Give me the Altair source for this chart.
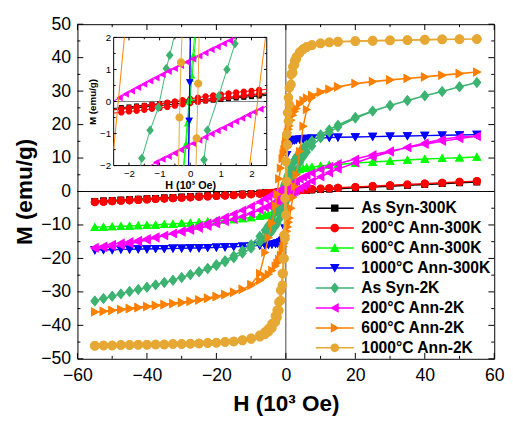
import altair as alt
import pandas as pd

SERIES = ["As Syn-300K", "200°C Ann-300K", "600°C Ann-300K", "1000°C Ann-300K",
          "As Syn-2K", "200°C Ann-2K", "600°C Ann-2K", "1000°C Ann-2K"]
COLORS = ["#000000", "#ff0000", "#00ff00", "#0000ff", "#3cb371", "#ff00ff", "#ff8000", "#e6a832"]

SQUARE = "M-0.85,-0.85H0.85V0.85H-0.85Z"
CIRCLE = "M-1,0A1,1,0,1,1,1,0A1,1,0,1,1,-1,0Z"
TRI_UP = "M0,-1.1L1.1,0.9L-1.1,0.9Z"
TRI_DOWN = "M0,1.1L-1.1,-0.9L1.1,-0.9Z"
DIAMOND = "M0,-1.25L1,0L0,1.25L-1,0Z"
TRI_LEFT = "M-1.1,0L0.9,-1.1L0.9,1.1Z"
TRI_RIGHT = "M1.1,0L-0.9,1.1L-0.9,-1.1Z"
MARKERS = [SQUARE, CIRCLE, TRI_UP, TRI_DOWN, DIAMOND, TRI_LEFT, TRI_RIGHT, CIRCLE]
LEG_LINE = "M-4.33,-0.17H4.33V0.17H-4.33Z"
LEGEND_PATHS = [m + LEG_LINE for m in MARKERS]
SIZES = [64, 70, 70, 75, 80, 75, 75, 95]
IN_SIZES = [36, 42, 36, 45, 60, 45, 45, 70]

# ---- main loops: field grid (descending branch); ascending branch uses the reversed grid
H_DOWN = [55, 50, 45, 40, 35, 30, 25, 20, 15, 12.5, 10, 7.5, 6, 5, 4, 3, 2.5, 2, 1.5, 1, 0.75, 0.5, 0.25, 0,
          -0.25, -0.5, -0.75, -1, -1.5, -2, -2.5, -3, -4, -5, -6, -7.5, -10, -12.5, -15, -17.5, -20, -22.5, -25,
          -27.5, -30, -32.5, -35, -37.5, -40, -42.5, -45, -47.5, -50, -52.5, -55]
H_UP = list(reversed(H_DOWN))

M_DOWN = [
    [2.85, 2.6, 2.35, 2.1, 1.85, 1.6, 1.35, 1.1, 0.85, 0.72, 0.6, 0.47, 0.4, 0.34, 0.29, 0.24, 0.22, 0.19, 0.15, 0.11, 0.09, 0.07, 0.045, 0.02,
     -0.005, -0.03, -0.05, -0.07, -0.11, -0.15, -0.19, -0.23, -0.29, -0.35, -0.41, -0.49, -0.62, -0.75, -0.88, -1.0, -1.13, -1.26, -1.39,
     -1.52, -1.65, -1.78, -1.91, -2.03, -2.16, -2.29, -2.42, -2.55, -2.68, -2.81, -2.94],
    [3.1, 2.85, 2.6, 2.35, 2.1, 1.85, 1.6, 1.35, 1.1, 0.97, 0.84, 0.7, 0.62, 0.56, 0.5, 0.44, 0.4, 0.35, 0.29, 0.22, 0.18, 0.14, 0.10, 0.06,
     0.02, -0.02, -0.055, -0.09, -0.15, -0.21, -0.27, -0.32, -0.4, -0.48, -0.55, -0.65, -0.8, -0.94, -1.08, -1.21, -1.34, -1.47, -1.6,
     -1.73, -1.86, -1.99, -2.12, -2.25, -2.38, -2.51, -2.64, -2.77, -2.9, -3.03, -3.16],
    [10.3, 10.1, 9.9, 9.7, 9.4, 9.1, 8.8, 8.5, 8.1, 7.9, 7.6, 7.3, 7.1, 6.9, 6.6, 6.3, 6.0, 5.7, 5.2, 4.5, 4.0, 3.4, 2.5, 1.2,
     -0.7, -2.5, -3.3, -4.0, -4.9, -5.5, -5.9, -6.2, -6.6, -6.9, -7.1, -7.4, -7.8, -8.1, -8.4, -8.6, -8.8, -9.0, -9.2,
     -9.4, -9.5, -9.7, -9.8, -10.0, -10.1, -10.2, -10.3, -10.4, -10.5, -10.6, -10.7],
    [17.0, 16.9, 16.8, 16.7, 16.6, 16.5, 16.4, 16.3, 16.2, 16.1, 16.0, 15.9, 15.8, 15.7, 15.6, 15.5, 15.4, 15.3, 15.1, 14.8, 14.5, 14.0, 11.0, 1.5,
     -11.0, -14.0, -14.5, -14.8, -15.1, -15.3, -15.5, -15.6, -15.8, -15.9, -16.0, -16.1, -16.3, -16.4, -16.5, -16.6, -16.7, -16.8, -16.9,
     -16.9, -17.0, -17.0, -17.1, -17.1, -17.2, -17.2, -17.3, -17.3, -17.4, -17.4, -17.5],
    [32.6, 31.3, 29.9, 28.6, 27.2, 25.7, 24.1, 22.2, 19.9, 18.5, 17.0, 15.2, 13.9, 13.0, 11.9, 10.4, 9.5, 8.4, 7.2, 5.9, 5.25, 4.6, 3.9, 3.2,
     2.5, 1.8, 0.9, 0.0, -1.7, -3.3, -4.8, -6.1, -8.3, -10.1, -11.6, -13.4, -15.8, -17.6, -19.2, -20.6, -21.8, -22.9, -23.9,
     -24.8, -25.7, -26.5, -27.2, -27.9, -28.6, -29.3, -29.9, -30.6, -31.3, -32.0, -32.7],
    [16.5, 15.8, 15.0, 14.1, 13.1, 12.1, 11.0, 9.7, 8.3, 7.5, 6.6, 5.5, 4.8, 4.3, 3.7, 3.1, 2.8, 2.4, 2.0, 1.75, 1.62, 1.5, 1.38, 1.25,
     1.12, 1.0, 0.88, 0.75, 0.5, 0.25, 0.0, -0.3, -0.9, -1.6, -2.2, -3.1, -4.4, -5.6, -6.7, -7.7, -8.6, -9.5, -10.3,
     -11.1, -11.8, -12.5, -13.2, -13.9, -14.5, -15.1, -15.6, -16.1, -16.5, -16.8, -17.0],
    [35.7, 35.3, 34.8, 34.3, 33.8, 33.4, 32.9, 32.3, 31.3, 30.6, 29.8, 28.8, 28.0, 27.2, 26.2, 24.8, 23.9, 22.8, 21.3, 19.6, 18.6, 17.6, 16.4, 15.2,
     13.9, 12.5, 11.2, 9.8, 7.0, 3.8, -0.8, -4.2, -9.5, -13.8, -18.2, -24.5, -27.8, -29.3, -30.2, -30.9, -31.5, -32.0, -32.5,
     -32.9, -33.3, -33.6, -33.9, -34.2, -34.5, -34.8, -35.1, -35.4, -35.6, -35.8, -36.0],
    [45.6, 45.5, 45.4, 45.3, 45.2, 45.1, 45.0, 44.9, 44.7, 44.5, 44.2, 43.7, 43.2, 42.6, 41.7, 40.2, 39.0, 37.3, 35.0, 31.0, 28.0, 23.5, 17.0, 9.0,
     -2.0, -13.0, -20.0, -24.5, -29.5, -33.0, -35.5, -37.2, -39.5, -41.0, -42.0, -43.0, -43.9, -44.4, -44.8, -45.0, -45.2, -45.3, -45.4,
     -45.5, -45.6, -45.6, -45.7, -45.7, -45.8, -45.8, -45.9, -45.9, -46.0, -46.0, -46.1],
]

M_UP = [
    [-2.92, -2.80, -2.67, -2.54, -2.41, -2.28, -2.15, -2.03, -1.9, -1.77, -1.64, -1.52, -1.39,
     -1.26, -1.13, -1.0, -0.88, -0.75, -0.63, -0.5, -0.42, -0.37, -0.31, -0.26, -0.23, -0.19, -0.15, -0.11, -0.09, -0.07, -0.045, -0.02,
     0.005, 0.03, 0.05, 0.07, 0.11, 0.15, 0.19, 0.22, 0.28, 0.33, 0.39, 0.46, 0.59, 0.71, 0.84, 1.09, 1.34, 1.59, 1.84, 2.09, 2.34, 2.59, 2.84],
    [-3.16, -3.03, -2.9, -2.77, -2.64, -2.51, -2.38, -2.25, -2.12, -1.99, -1.86, -1.73, -1.6,
     -1.47, -1.34, -1.21, -1.09, -0.97, -0.85, -0.71, -0.63, -0.57, -0.51, -0.45, -0.41, -0.36, -0.3, -0.23, -0.19, -0.15, -0.105, -0.06,
     -0.02, 0.02, 0.055, 0.09, 0.15, 0.21, 0.27, 0.32, 0.4, 0.48, 0.55, 0.65, 0.8, 0.94, 1.08, 1.34, 1.6, 1.85, 2.1, 2.35, 2.6, 2.85, 3.1],
    [-10.7, -10.6, -10.5, -10.4, -10.3, -10.2, -10.1, -10.0, -9.8, -9.7, -9.5, -9.4, -9.2,
     -9.0, -8.8, -8.6, -8.4, -8.1, -7.8, -7.4, -7.2, -7.0, -6.7, -6.3, -6.0, -5.7, -5.2, -4.5, -4.0, -3.4, -2.3, -1.0,
     0.9, 2.6, 3.4, 4.0, 4.9, 5.5, 5.9, 6.2, 6.6, 6.9, 7.1, 7.3, 7.6, 7.9, 8.1, 8.5, 8.8, 9.1, 9.4, 9.7, 9.9, 10.1, 10.3],
    [-17.5, -17.4, -17.4, -17.3, -17.3, -17.2, -17.2, -17.1, -17.1, -17.0, -17.0, -16.9, -16.9,
     -16.8, -16.7, -16.6, -16.5, -16.4, -16.3, -16.1, -16.0, -15.9, -15.8, -15.6, -15.5, -15.3, -15.1, -14.8, -14.5, -14.0, -11.0, -1.5,
     11.0, 14.0, 14.5, 14.8, 15.1, 15.3, 15.4, 15.5, 15.6, 15.7, 15.8, 15.9, 16.0, 16.1, 16.2, 16.3, 16.4, 16.5, 16.6, 16.7, 16.8, 16.9, 17.0],
    [-32.7, -32.0, -31.3, -30.6, -29.9, -29.3, -28.6, -27.9, -27.2, -26.5, -25.7, -24.9, -24.1,
     -23.2, -22.2, -21.1, -19.9, -18.5, -17.0, -15.2, -13.9, -13.0, -11.9, -10.4, -9.5, -8.4, -7.2, -5.9, -5.2, -4.5, -3.7, -2.9,
     -2.0, -1.0, -0.3, 0.4, 2.2, 3.8, 5.2, 6.4, 8.6, 10.3, 11.8, 13.6, 16.0, 17.7, 19.3, 21.9, 24.0, 25.7, 27.2, 28.6, 29.9, 31.3, 32.6],
    [-16.7, -16.3, -15.8, -15.4, -15.0, -14.6, -14.1, -13.6, -13.1, -12.6, -12.1, -11.6, -11.0,
     -10.4, -9.7, -9.0, -8.3, -7.5, -6.6, -5.5, -4.8, -4.3, -3.7, -3.1, -2.8, -2.4, -2.05, -1.8, -1.68, -1.55, -1.42, -1.3,
     -1.18, -1.05, -0.92, -0.8, -0.55, -0.3, -0.05, 0.3, 0.9, 1.6, 2.2, 3.1, 4.4, 5.6, 6.7, 8.6, 10.3, 11.8, 13.2, 14.5, 15.6, 16.3, 16.5],
    [-36.0, -35.8, -35.5, -35.2, -34.9, -34.6, -34.3, -34.0, -33.7, -33.4, -33.1, -32.7, -32.3,
     -31.8, -31.3, -30.7, -30.0, -29.2, -28.1, -26.6, -25.5, -24.7, -23.6, -22.3, -21.4, -20.3, -19.0, -17.4, -16.5, -15.5, -14.4, -13.2,
     -11.9, -10.6, -9.2, -7.9, -5.0, -1.8, 1.5, 5.0, 12.0, 19.5, 24.5, 28.0, 29.6, 30.5, 31.2, 32.2, 32.8, 33.3, 33.8, 34.2, 34.7, 35.2, 35.7],
    [-46.1, -46.0, -46.0, -45.9, -45.9, -45.8, -45.8, -45.7, -45.7, -45.6, -45.6, -45.5, -45.4,
     -45.3, -45.2, -45.0, -44.8, -44.5, -44.1, -43.4, -42.7, -41.9, -40.8, -39.0, -37.6, -35.6, -32.6, -28.0, -24.5, -20.0, -14.0, -7.0,
     3.0, 14.0, 21.0, 26.0, 32.0, 35.5, 37.9, 39.5, 41.4, 42.5, 43.2, 43.8, 44.3, 44.6, 44.8, 45.0, 45.1, 45.2, 45.3, 45.4, 45.5, 45.5, 45.6],
]

# ---- inset (low-field zoom), segments inside the inset window
IN_GRID = [2.5, 2.25, 2.0, 1.75, 1.5, 1.25, 1.0, 0.75, 0.5, 0.25, 0.0, -0.25, -0.5, -0.75, -1.0, -1.25,
           -1.5, -1.75, -2.0, -2.25, -2.5]
MAG_DOWN_H = [1.5, 1.3, 1.1, 0.9, 0.7, 0.5, 0.3, 0.1, -0.1, -0.3, -0.5, -0.7, -0.9, -1.1, -1.3, -1.5,
              -1.7, -1.9, -2.1, -2.3, -2.5]
MAG_UP_H = [-1.3, -1.1, -0.9, -0.7, -0.5, -0.3, -0.1, 0.1, 0.3, 0.5, 0.7, 0.9, 1.1, 1.3, 1.5, 1.7,
            1.9, 2.1, 2.3, 2.5]
IN_H_DOWN = [IN_GRID, IN_GRID,
             [0.14, 0.08, 0.02, -0.04, -0.1, -0.16, -0.22],
             [0.0, -0.02, -0.04, -0.06],
             [-0.53, -0.67, -0.78, -1.04, -1.31, -1.58, -1.62],
             MAG_DOWN_H,
             [-2.15, -2.5],
             [-0.27, -0.3, -0.35, -0.38]]
IN_M_DOWN = [[0.23, 0.21, 0.19, 0.17, 0.15, 0.13, 0.11, 0.09, 0.07, 0.05, 0.03, 0.01, -0.02, -0.04, -0.07, -0.09,
              -0.12, -0.14, -0.17, -0.19, -0.22],
             [0.38, 0.36, 0.33, 0.31, 0.28, 0.25, 0.22, 0.19, 0.16, 0.12, 0.08, 0.04, 0.0, -0.04, -0.08, -0.11,
              -0.14, -0.17, -0.2, -0.23, -0.25],
             [2.0, 1.4, 0.7, 0.0, -0.7, -1.4, -2.0],
             [2.0, 0.6, -0.6, -2.0],
             [2.0, 1.44, 1.03, -0.19, -0.9, -1.77, -2.0],
             [2.0, 1.9, 1.81, 1.71, 1.62, 1.52, 1.42, 1.33, 1.23, 1.13, 1.03, 0.94, 0.84, 0.74, 0.64, 0.54,
              0.44, 0.33, 0.23, 0.12, 0.01],
             [2.0, -1.5],
             [2.0, 1.22, -0.5, -2.0]]
IN_H_UP = [list(reversed(IN_GRID)), list(reversed(IN_GRID)),
           [-0.2, -0.13, -0.06, 0.0, 0.06, 0.12, 0.18],
           [-0.05, -0.03, -0.01, 0.01],
           [0.43, 0.45, 0.56, 0.93, 1.2, 1.46, 1.52],
           MAG_UP_H,
           [1.94, 2.46],
           [0.19, 0.21, 0.26, 0.29]]
IN_M_UP = [[-0.26, -0.24, -0.22, -0.2, -0.17, -0.15, -0.13, -0.1, -0.08, -0.05, -0.03, -0.01, 0.02, 0.04, 0.06, 0.09,
            0.11, 0.13, 0.15, 0.17, 0.19],
           [-0.36, -0.34, -0.31, -0.29, -0.26, -0.23, -0.2, -0.17, -0.13, -0.09, -0.05, -0.01, 0.03, 0.07, 0.1, 0.13,
            0.16, 0.19, 0.22, 0.24, 0.27],
           [-2.0, -1.3, -0.6, 0.1, 0.8, 1.4, 2.0],
           [-2.0, -0.6, 0.6, 2.0],
           [-2.0, -1.82, -0.9, 0.17, 1.0, 1.8, 2.0],
           [-2.0, -1.9, -1.8, -1.71, -1.61, -1.51, -1.41, -1.31, -1.21, -1.11, -1.01, -0.91, -0.82, -0.72, -0.62,
            -0.52, -0.42, -0.33, -0.24, -0.14],
           [-2.0, 2.0],
           [-2.0, -1.15, 0.56, 2.0]]

XT_MAJOR = [-60, -40, -20, 0, 20, 40, 60]
XT_MINOR = [-50, -30, -10, 10, 30, 50]
YT_MAJOR = [-50, -40, -30, -20, -10, 0, 10, 20, 30, 40, 50]
YT_MINOR = [-45, -35, -25, -15, -5, 5, 15, 25, 35, 45]
IN_T_MAJOR = [-2, -1, 0, 1, 2]
IN_T_MINOR = [-1.5, -0.5, 0.5, 1.5]

for s in range(8):
    assert len(M_DOWN[s]) == len(H_DOWN), s
    assert len(M_UP[s]) == len(H_UP), s
    assert len(IN_M_DOWN[s]) == len(IN_H_DOWN[s]), s
    assert len(IN_M_UP[s]) == len(IN_H_UP[s]), s

W, HGT = 426, 342
IN_L, IN_R, IN_T, IN_B = 37, 193.5, 13.5, 144.5
FONT = "Liberation Sans"

rows = []
for s, name in enumerate(SERIES):
    n = len(H_DOWN)
    for j, (h, m) in enumerate(zip(H_DOWN, M_DOWN[s])):
        rows.append({"series": name, "k": j, "H": h, "M": m})
    for j, (h, m) in enumerate(zip(H_UP, M_UP[s])):
        rows.append({"series": name, "k": n + j, "H": h, "M": m})
main_df = pd.DataFrame(rows)

irows = []
for s, name in enumerate(SERIES):
    for j, (h, m) in enumerate(zip(IN_H_DOWN[s], IN_M_DOWN[s])):
        irows.append({"series": name, "branch": "down", "k": j, "H": h, "M": m})
    for j, (h, m) in enumerate(zip(IN_H_UP[s], IN_M_UP[s])):
        irows.append({"series": name, "branch": "up", "k": j, "H": h, "M": m})
inset_df = pd.DataFrame(irows)

X_MAIN = alt.X("H:Q", scale=alt.Scale(domain=[-60, 60], nice=False, zero=False),
               axis=alt.Axis(values=XT_MAJOR, title="H (10³ Oe)", labelFontSize=18, titleFontSize=23,
                             ticks=False, domain=False, grid=False, labelPadding=8, titlePadding=9,
                             labelFlush=False, labelOverlap=False, format="d"))
Y_MAIN = alt.Y("M:Q", scale=alt.Scale(domain=[-50, 50], nice=False, zero=False),
               axis=alt.Axis(values=YT_MAJOR, title="M (emu/g)", labelFontSize=18, titleFontSize=23,
                             ticks=False, domain=False, grid=False, labelPadding=7, titlePadding=4,
                             labelOverlap=False, format="d"))

X_IN = alt.X("H:Q", scale=alt.Scale(domain=[-2.5, 2.5], range=[IN_L, IN_R], nice=False, zero=False),
             axis=alt.Axis(orient="bottom", offset=-(HGT - IN_B), values=IN_T_MAJOR, title="H (10³ Oe)",
                           labelFontSize=10, titleFontSize=11, ticks=False, domain=False, grid=False,
                           labelPadding=3, titlePadding=1, labelFlush=False, format="d"))
Y_IN = alt.Y("M:Q", scale=alt.Scale(domain=[-2, 2], range=[IN_B, IN_T], nice=False, zero=False),
             axis=alt.Axis(orient="left", offset=-IN_L, values=IN_T_MAJOR, title="M (emu/g)",
                           labelFontSize=10, titleFontSize=10, ticks=False, domain=False, grid=False,
                           labelPadding=3, titlePadding=2, format="d"))

# ---------------- main panel
main_layers = [
    alt.Chart(pd.DataFrame({"M": [0]})).mark_rule(color="black", strokeWidth=1).encode(y=Y_MAIN),
    alt.Chart(pd.DataFrame({"H": [0]})).mark_rule(color="#444444", strokeWidth=1).encode(x=X_MAIN),
]
for s, name in enumerate(SERIES):
    base = alt.Chart(main_df).transform_filter(alt.datum.series == name)
    main_layers.append(base.mark_line(color=COLORS[s], strokeWidth=1.5).encode(x=X_MAIN, y=Y_MAIN, order="k:Q"))
    main_layers.append(base.mark_point(shape=MARKERS[s], filled=True, opacity=1, size=SIZES[s],
                                       color=COLORS[s], strokeWidth=0).encode(x=X_MAIN, y=Y_MAIN))

def xticks(vals, length, enc, top, bottom):
    df = pd.DataFrame({"H": vals})
    return [alt.Chart(df).mark_rule(color="black", strokeWidth=1).encode(
                x=enc, y=alt.value(bottom), y2=alt.value(bottom - length)),
            alt.Chart(df).mark_rule(color="black", strokeWidth=1).encode(
                x=enc, y=alt.value(top), y2=alt.value(top + length))]

def yticks(vals, length, enc, left, right):
    df = pd.DataFrame({"M": vals})
    return [alt.Chart(df).mark_rule(color="black", strokeWidth=1).encode(
                y=enc, x=alt.value(left), x2=alt.value(left + length)),
            alt.Chart(df).mark_rule(color="black", strokeWidth=1).encode(
                y=enc, x=alt.value(right), x2=alt.value(right - length))]

main_layers += xticks(XT_MAJOR, 6, X_MAIN, 0, HGT) + xticks(XT_MINOR, 3, X_MAIN, 0, HGT)
main_layers += yticks(YT_MAJOR, 6, Y_MAIN, 0, W) + yticks(YT_MINOR, 3, Y_MAIN, 0, W)

leg = alt.Legend(orient="none", legendX=255, legendY=180, title=None, labelFont=FONT,
                 labelFontSize=16, labelFontWeight="bold", labelColor="black", symbolSize=81,
                 symbolStrokeWidth=0, labelOffset=19, rowPadding=4.4, padding=0, labelLimit=300)
legend_layer = alt.Chart(main_df).transform_filter("false").mark_point(filled=True, opacity=1, size=81).encode(
    x=X_MAIN, y=Y_MAIN,
    color=alt.Color("series:N", scale=alt.Scale(domain=SERIES, range=COLORS), legend=leg),
    shape=alt.Shape("series:N", scale=alt.Scale(domain=SERIES, range=LEGEND_PATHS), legend=leg),
)
main_layers.append(legend_layer)
main_group = alt.layer(*main_layers)

# ---------------- inset panel
frame_df = pd.DataFrame({"H": [-2.5], "H2": [2.5], "M": [-2], "M2": [2]})
zero_df = pd.DataFrame({"H": [-2.5], "H2": [2.5], "M": [0]})
inset_layers = [
    alt.Chart(frame_df).mark_rect(fill="white", stroke="black", strokeWidth=1).encode(
        x=X_IN, x2="H2:Q", y=Y_IN, y2="M2:Q"),
    alt.Chart(zero_df).mark_rule(color="#808080", strokeWidth=1).encode(x=X_IN, x2="H2:Q", y=Y_IN),
]
for s, name in enumerate(SERIES):
    base = alt.Chart(inset_df).transform_filter(alt.datum.series == name)
    inset_layers.append(base.mark_line(color=COLORS[s], strokeWidth=1).encode(
        x=X_IN, y=Y_IN, detail="branch:N", order="k:Q"))
    inset_layers.append(base.transform_filter("abs(datum.M) < 1.99 && abs(datum.H) < 2.49").mark_point(
        shape=MARKERS[s], filled=True, opacity=1, size=IN_SIZES[s], color=COLORS[s], strokeWidth=0
    ).encode(x=X_IN, y=Y_IN))
inset_layers += xticks(IN_T_MAJOR, 3, X_IN, IN_T, IN_B) + xticks(IN_T_MINOR, 2, X_IN, IN_T, IN_B)
inset_layers += yticks(IN_T_MAJOR, 3, Y_IN, IN_L, IN_R) + yticks(IN_T_MINOR, 2, Y_IN, IN_L, IN_R)
inset_group = alt.layer(*inset_layers)

chart = alt.layer(main_group, inset_group).resolve_scale(
    x="independent", y="independent"
).properties(
    width=W, height=HGT, padding={"left": 6, "top": 3, "right": 0, "bottom": 0}, background="white"
).configure_view(
    stroke="black", strokeWidth=1
).configure_axis(
    labelFont=FONT, titleFont=FONT, labelColor="black", titleColor="black", titleFontWeight="bold"
)

chart.save("out.html", embed_options={"renderer": "svg", "actions": False})
